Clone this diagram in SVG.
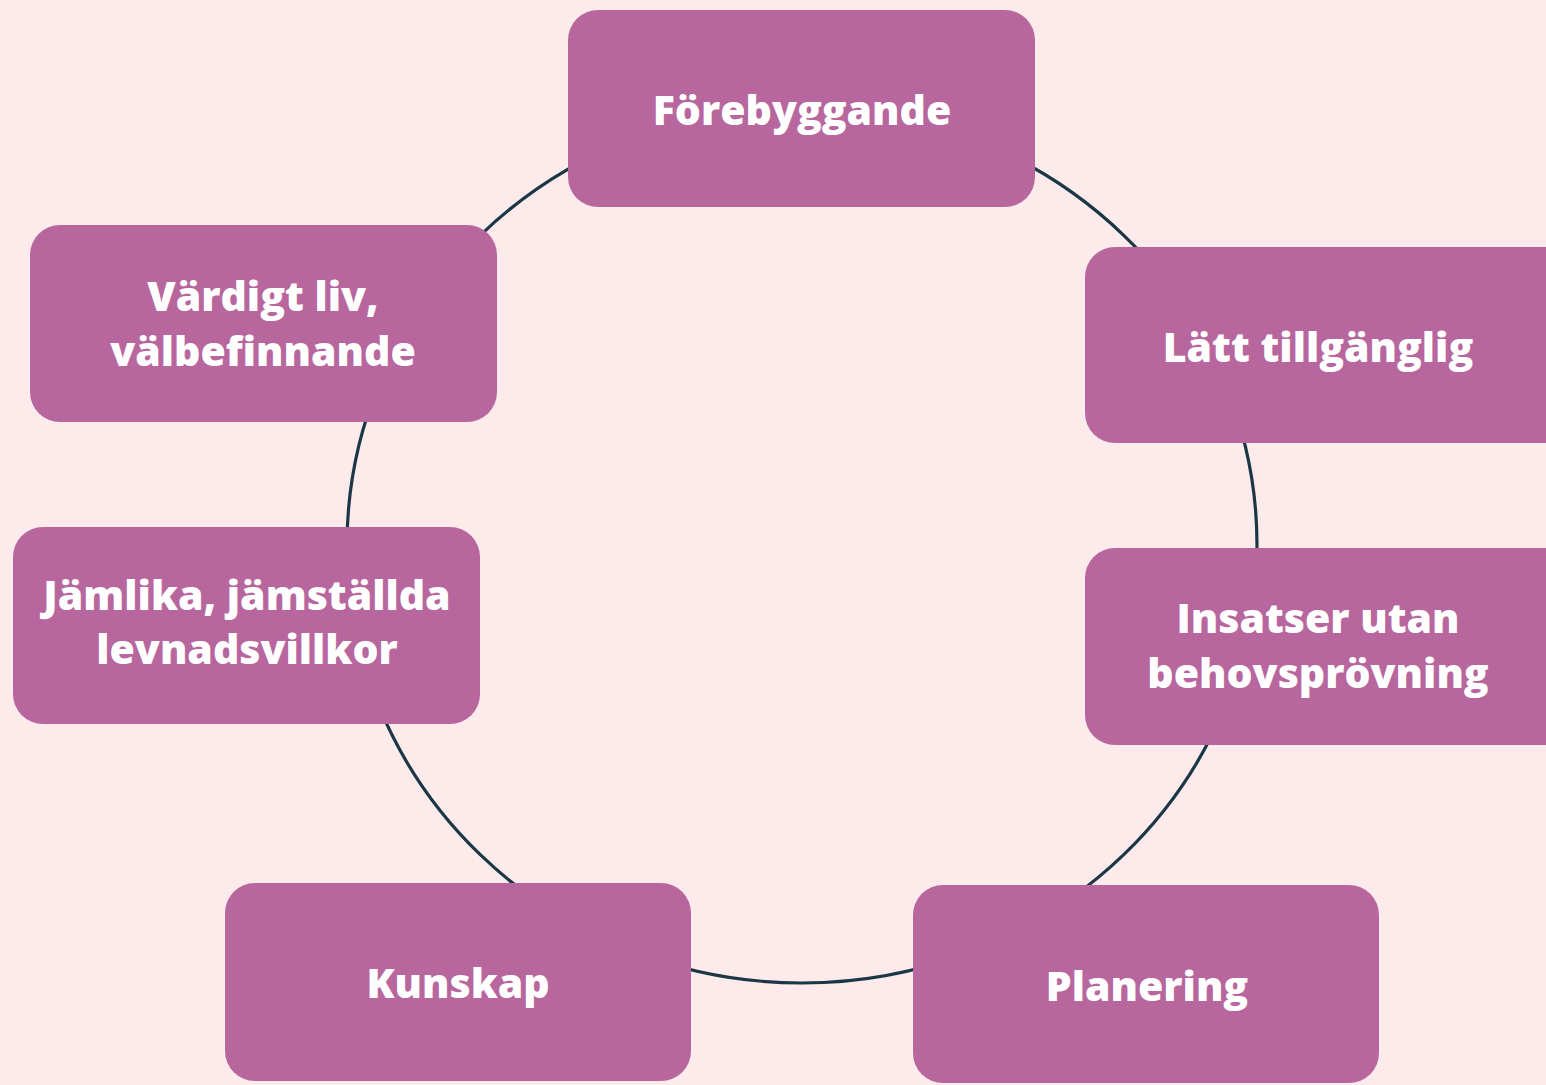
<svg xmlns="http://www.w3.org/2000/svg" width="1546" height="1085" viewBox="0 0 1546 1085">
<style>
.node rect{fill:#B8669E;}
.node text{fill:#FFFFFF;font-family:"Open Sans","Liberation Sans",sans-serif;font-weight:800;font-size:41px;text-anchor:middle;}
.ring{fill:none;stroke:#1B3746;stroke-width:3.2;}
</style>
<rect x="0" y="0" width="1546" height="1085" fill="#FCEBEA"/>
<g id="connectors">
<ellipse class="ring" cx="802" cy="545" rx="455" ry="438"/>
</g>
<g id="node-forebyggande" class="node">
<rect x="568" y="10" width="467" height="197" rx="30"/>
<text x="802" y="125">Förebyggande</text>
</g>
<g id="node-latt" class="node">
<rect x="1085" y="247" width="490" height="196" rx="30"/>
<text x="1318" y="362">Lätt tillgänglig</text>
</g>
<g id="node-insatser" class="node">
<rect x="1085" y="548" width="490" height="197" rx="30"/>
<text x="1318" y="633">Insatser utan</text>
<text x="1318" y="688">behovsprövning</text>
</g>
<g id="node-planering" class="node">
<rect x="913" y="885" width="466" height="198" rx="30"/>
<text x="1147" y="1001">Planering</text>
</g>
<g id="node-kunskap" class="node">
<rect x="225" y="883" width="466" height="198" rx="30"/>
<text x="458" y="998">Kunskap</text>
</g>
<g id="node-jamlika" class="node">
<rect x="13" y="527" width="467" height="197" rx="30"/>
<text x="247" y="610">Jämlika, jämställda</text>
<text x="247" y="664">levnadsvillkor</text>
</g>
<g id="node-vardigt" class="node">
<rect x="30" y="225" width="467" height="197" rx="30"/>
<text x="263" y="311">Värdigt liv,</text>
<text x="263" y="366">välbefinnande</text>
</g>
</svg>
